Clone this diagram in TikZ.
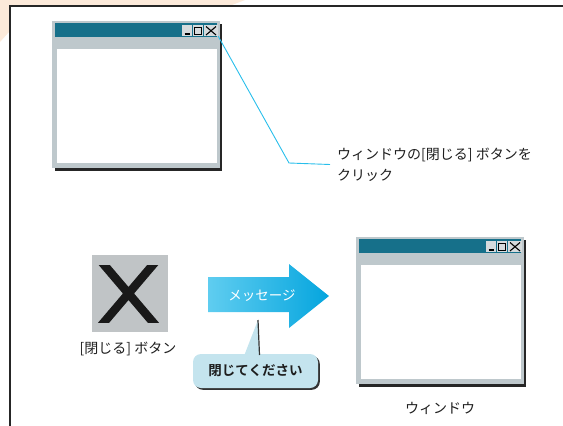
\documentclass[tikz,border=0pt]{standalone}
\usepackage{fontspec}
\newfontfamily\jp{Noto Sans CJK JP}[BoldFont={Noto Sans CJK JP Bold}]
\usetikzlibrary{shadows}

\definecolor{winteal}{RGB}{22,112,138}
\definecolor{wingrey}{RGB}{190,200,204}
\definecolor{btngrey}{RGB}{214,219,221}
\definecolor{xgrey}{RGB}{192,196,198}
\definecolor{arrowlight}{RGB}{95,205,240}
\definecolor{arrowdark}{RGB}{5,165,222}
\definecolor{callblue}{RGB}{196,228,238}
\definecolor{linecyan}{RGB}{40,190,235}
\definecolor{peach}{RGB}{252,234,218}
\definecolor{ink}{RGB}{30,30,30}

\tikzset{
  winbtn/.style={fill=btngrey, inner sep=0pt, minimum height=11pt},
  note/.style={font=\jp\fontsize{14}{21}\selectfont, text=ink, inner sep=2pt},
  cyanline/.style={linecyan, line width=0.9pt},
}

% window: name, x, y of top left corner
\newcommand{\drawwin}[3]{%
  \begin{scope}[shift={(#2,#3)}]
    \fill[black!85] (3,3) rectangle (170,149.5);
    \fill[wingrey] (0,0) rectangle (168,147);
    \fill[winteal] (3,2) rectangle (165,16);
    \fill[white] (5,28) rectangle (165,142);
    \node[winbtn, minimum width=10pt] (#1min) at (135,9.5) {};
    \node[winbtn, minimum width=10pt] (#1max) at (146,9.5) {};
    \node[winbtn, minimum width=14pt] (#1close) at (159,9.5) {};
    \draw[line width=1.3pt] (132.5,13) -- (137.5,13);
    \draw[line width=0.8pt] (142.5,6) rectangle (149.5,13.5);
    \draw[line width=1.4pt] (142.5,6.3) -- (149.5,6.3);
    \draw[line width=1.1pt] (154,5.5) -- (164,14) (154,14) -- (164,5.5);
  \end{scope}}

\begin{document}
\begin{tikzpicture}[x=1pt, y=-1pt]
  \useasboundingbox (0,0) rectangle (563,426);

  % page edge
  \fill[peach] (0,0) -- (245,0) -- (232,5) -- (9,5) -- (9,32) -- (0,42) -- cycle;
  \draw[line width=1.6pt, black!85] (10,426) -- (10,6) -- (563,6);

  % top window
  \drawwin{top}{52}{21}
  \coordinate (bend) at (289,163);
  \node[note, anchor=west, align=left, inner xsep=7pt] (clicktext) at (330,164.5)
    {ウィンドウの[閉じる] ボタンを\\クリック};
  \draw[cyanline] (topclose.south east) -- (bend) -- (clicktext.west);

  % close button
  \node[fill=xgrey, minimum width=76pt, minimum height=77pt, inner sep=0pt] (xbtn) at (130,293) {};
  \begin{scope}
    \clip (90,265) rectangle (170,322);
    \draw[black!90, line width=8.5pt] (100,260) -- (157,327) (157,260) -- (100,327);
  \end{scope}
  \node[note] (xlabel) at (128,349) {[閉じる] ボタン};

  % message arrow
  \shade[left color=arrowlight, right color=arrowdark]
    (208,277) -- (289,277) -- (289,264) -- (329,296) -- (289,328)
    -- (289,312) -- (208,312) -- cycle;
  \node[note, text=white, font=\jp\fontsize{13.5}{16}\selectfont] (msg) at (262,296) {メッセージ};

  % speech balloon
  \node[fill=callblue, rounded corners=8pt, minimum width=125pt, minimum height=34pt,
    drop shadow={shadow xshift=1.8pt, shadow yshift=-1.8pt, fill=black!80, opacity=1},
    note, font=\jp\bfseries\fontsize{13.5}{16}\selectfont] (say) at (255.5,371) {閉じてください};
  \coordinate (tip) at (258,320);
  \fill[callblue] (tip) -- (244,356) -- (259.5,356) -- cycle;
  \draw[black!80, line width=1.2pt] (tip) -- (259.5,355);

  % bottom window
  \drawwin{low}{356}{237}
  \node[note] (winlabel) at (440,408) {ウィンドウ};
\end{tikzpicture}
\end{document}
